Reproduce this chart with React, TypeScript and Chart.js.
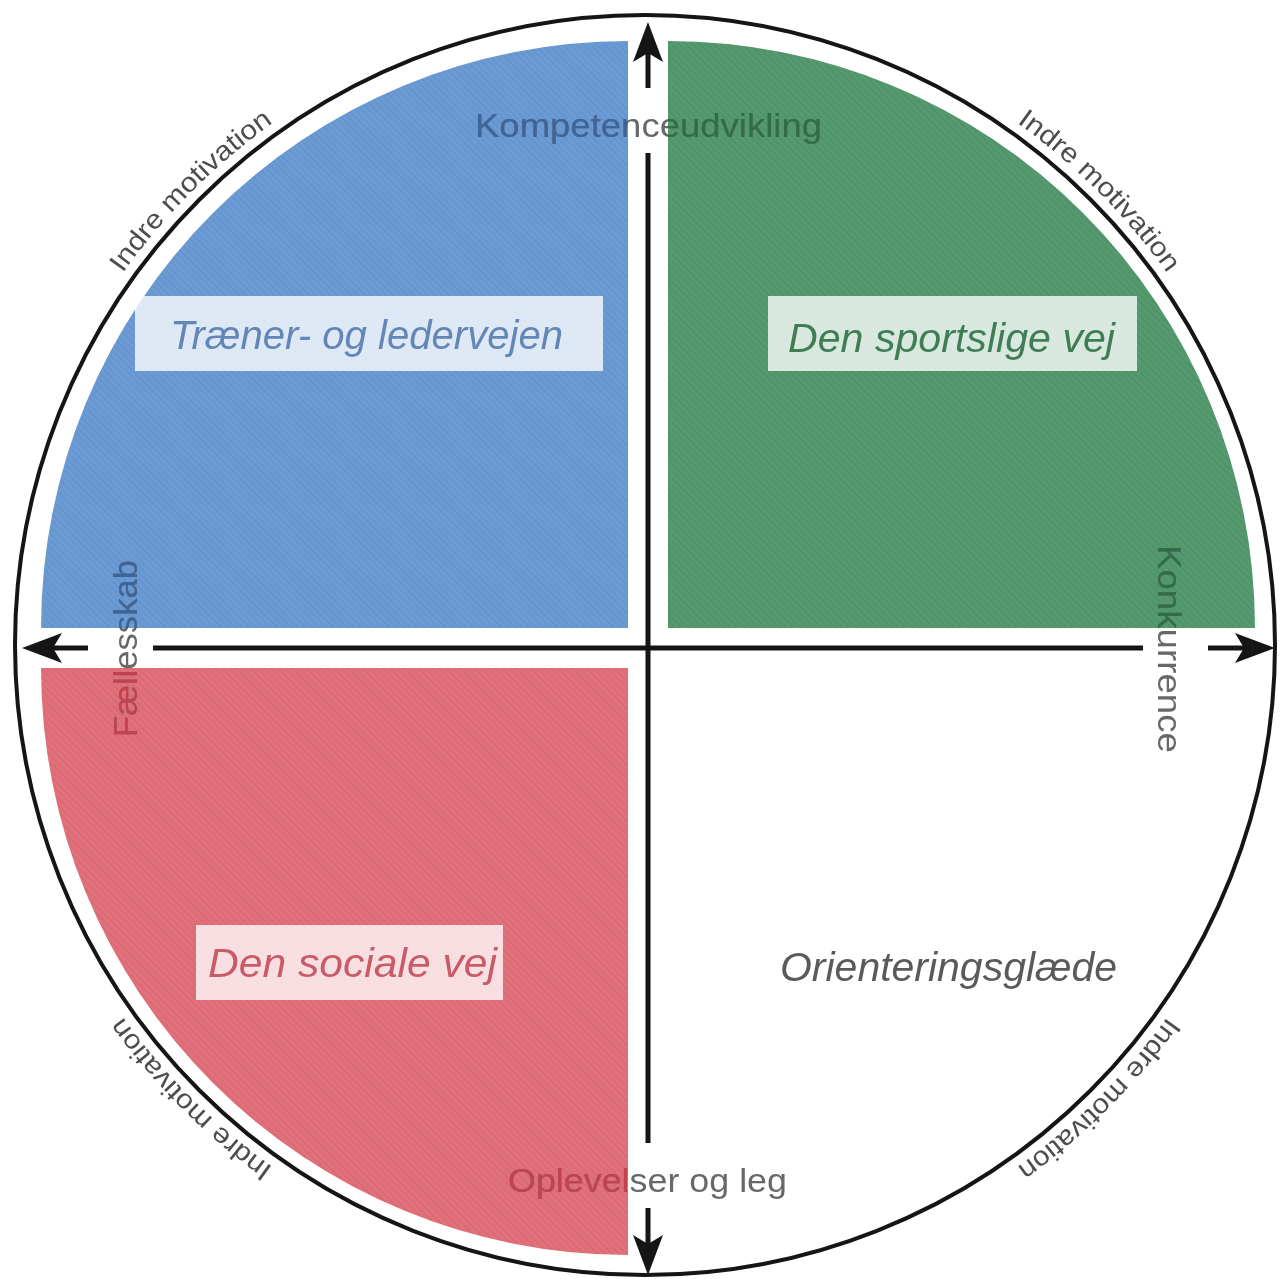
import React, { useEffect, useRef } from "react";
import { Chart, registerables } from "chart.js";

Chart.register(...registerables);

// Quadrants, clockwise from 12 o'clock
const categories = ["Den sportslige vej", "Orienteringsglæde", "Den sociale vej", "Træner- og ledervejen"];
const shares = [25, 25, 25, 25];
const quadrantColors = ["#55996e", "#ffffff", "#e1707a", "#6b9bd4"];
const labelColors = ["#3f7d56", "#5a5a5a", "#c95a68", "#6286b6"];
const axisTextTints = ["#2f6e48", null, "#c3424f", "#3d659a"];
// Axis labels: top, right, bottom, left
const axisLabels = ["Kompetenceudvikling", "Konkurrence", "Oplevelser og leg", "Fællesskab"];
const rimLabel = "Indre motivation";
const rimAnglesDeg = [225, 315, 45, 135];

const FONT = "'Liberation Sans', Arial, sans-serif";

function makePattern(color: string) {
  if (color === "#ffffff") return color;
  const c = document.createElement("canvas");
  c.width = 7;
  c.height = 7;
  const g = c.getContext("2d")!;
  g.fillStyle = color;
  g.fillRect(0, 0, 7, 7);
  g.strokeStyle = "rgba(0,0,0,0.06)";
  g.lineWidth = 1.2;
  g.beginPath();
  g.moveTo(-1, -1);
  g.lineTo(8, 8);
  g.stroke();
  return g.createPattern(c, "repeat") as any;
}

function fitText(ctx: CanvasRenderingContext2D, text: string, x: number, y: number, width: number, font: string, color: string, rot = 0) {
  ctx.save();
  ctx.font = font;
  const w = ctx.measureText(text).width;
  ctx.translate(x, y);
  ctx.rotate(rot);
  ctx.scale(width / w, 1);
  ctx.textAlign = "center";
  ctx.textBaseline = "alphabetic";
  ctx.fillStyle = color;
  ctx.fillText(text, 0, 0);
  ctx.restore();
}

function arcText(ctx: CanvasRenderingContext2D, text: string, cx: number, cy: number, r: number, mid: number, arcLen: number, font: string, color: string) {
  ctx.save();
  ctx.font = font;
  ctx.fillStyle = color;
  const total = ctx.measureText(text).width;
  const s = arcLen / total;
  let a = mid - arcLen / 2 / r;
  for (const ch of text) {
    const w = ctx.measureText(ch).width * s;
    const am = a + w / 2 / r;
    ctx.save();
    ctx.translate(cx + r * Math.cos(am), cy + r * Math.sin(am));
    ctx.rotate(am + Math.PI / 2);
    ctx.scale(s, 1);
    ctx.textAlign = "center";
    ctx.textBaseline = "alphabetic";
    ctx.fillText(ch, 0, 0);
    ctx.restore();
    a += w / r;
  }
  ctx.restore();
}

function arrowHead(ctx: CanvasRenderingContext2D, tx: number, ty: number, dx: number, dy: number) {
  const len = 40, half = 15, notch = 31;
  const px = -dy, py = dx;
  const bx = tx - dx * len, by = ty - dy * len;
  ctx.beginPath();
  ctx.moveTo(tx, ty);
  ctx.lineTo(bx + px * half, by + py * half);
  ctx.lineTo(tx - dx * notch, ty - dy * notch);
  ctx.lineTo(bx - px * half, by - py * half);
  ctx.closePath();
  ctx.fill();
}

const decorPlugin = {
  id: "decor",
  afterDatasetsDraw(chart: any) {
    const ctx: CanvasRenderingContext2D = chart.ctx;
    const arc = chart.getDatasetMeta(0).data[0];
    const cx = arc.x, cy = arc.y;
    const ox = cx - 648, oy = cy - 648;

    // outer circle
    const ccx = cx - 3, ccy = cy - 3, R = 630;
    ctx.save();
    ctx.strokeStyle = "#151515";
    ctx.lineWidth = 4;
    ctx.beginPath();
    ctx.arc(ccx, ccy, R, 0, Math.PI * 2);
    ctx.stroke();
    ctx.restore();

    // axes with arrows
    ctx.save();
    ctx.strokeStyle = "#151515";
    ctx.fillStyle = "#151515";
    ctx.lineWidth = 5;
    const tip = 626, a1 = 560, a2 = 495;
    const segs = [
      [cx, cy - tip + 30, cx, cy - a1],
      [cx, cy - a2, cx, cy + a2],
      [cx, cy + a1, cx, cy + tip - 30],
      [cx - tip + 30, cy, cx - a1, cy],
      [cx - a2, cy, cx + a2, cy],
      [cx + a1, cy, cx + tip - 30, cy],
    ];
    for (const s of segs) {
      ctx.beginPath();
      ctx.moveTo(s[0], s[1]);
      ctx.lineTo(s[2], s[3]);
      ctx.stroke();
    }
    arrowHead(ctx, cx, cy - tip, 0, -1);
    arrowHead(ctx, cx, cy + tip + 1, 0, 1);
    arrowHead(ctx, cx - tip, cy, -1, 0);
    arrowHead(ctx, cx + tip + 1, cy, 1, 0);
    ctx.restore();

    // rim labels
    rimAnglesDeg.forEach((deg) => {
      arcText(ctx, rimLabel, ccx, ccy, 641, (deg * Math.PI) / 180, 214, `27px ${FONT}`, "#4d4d4d");
    });

    // axis labels (gray, tinted where they cross a coloured quadrant)
    const g = 20;
    const W = chart.width, H = chart.height;
    const clips = [
      [cx + g, 0, W, cy - g],
      null,
      [0, cy + g, cx - g, H],
      [0, 0, cx - g, cy - g],
    ];
    const axisDraw = [
      (c: string) => fitText(ctx, axisLabels[0], cx + 0.5, cy - 511, 347, `33px ${FONT}`, c),
      (c: string) => fitText(ctx, axisLabels[1], cx + 510, cy + 1, 208, `33px ${FONT}`, c, Math.PI / 2),
      (c: string) => fitText(ctx, axisLabels[2], cx - 0.5, cy + 544, 279, `33px ${FONT}`, c),
      (c: string) => fitText(ctx, axisLabels[3], cx - 511, cy + 0.5, 177, `33px ${FONT}`, c, -Math.PI / 2),
    ];
    axisDraw.forEach((draw) => {
      draw("#686868");
      clips.forEach((cl, qi) => {
        if (!cl || !axisTextTints[qi]) return;
        ctx.save();
        ctx.beginPath();
        ctx.rect(cl[0], cl[1], cl[2] - cl[0], cl[3] - cl[1]);
        ctx.clip();
        draw(axisTextTints[qi] as string);
        ctx.restore();
      });
    });

    // quadrant labels
    const layout = [
      { box: [768, 296, 369, 75], tx: 951.5, ty: 352, tw: 327 },
      { box: null, tx: 948.5, ty: 981, tw: 337 },
      { box: [196, 925, 307, 75], tx: 352.5, ty: 977, tw: 289 },
      { box: [135, 296, 468, 75], tx: 366.5, ty: 349, tw: 393 },
    ];
    layout.forEach((l, i) => {
      if (l.box) {
        ctx.save();
        ctx.fillStyle = "rgba(255,255,255,0.78)";
        ctx.fillRect(l.box[0] + ox, l.box[1] + oy, l.box[2], l.box[3]);
        ctx.restore();
      }
      fitText(ctx, categories[i], l.tx + ox, l.ty + oy, l.tw, `italic 40px ${FONT}`, labelColors[i]);
    });
  },
};

export default function App() {
  const ref = useRef<HTMLCanvasElement | null>(null);
  useEffect(() => {
    document.body.style.margin = "0";
    const canvas = ref.current!;
    const chart = new Chart(canvas, {
      type: "pie",
      data: {
        labels: categories,
        datasets: [
          {
            data: shares,
            backgroundColor: quadrantColors.map(makePattern),
            borderWidth: 0,
            offset: 113,
            hoverOffset: 113,
            radius: 587,
          } as any,
        ],
      },
      options: {
        animation: false,
        responsive: false,
        events: [],
        rotation: 0,
        layout: { padding: { left: 15, top: 17, right: 0, bottom: 0 } },
        plugins: { legend: { display: false }, tooltip: { enabled: false } },
      } as any,
      plugins: [decorPlugin],
    });
    return () => chart.destroy();
  }, []);
  return (
    <div style={{ width: 1281, height: 1279, background: "#ffffff" }}>
      <canvas ref={ref} width={1281} height={1279} style={{ display: "block" }} />
    </div>
  );
}
